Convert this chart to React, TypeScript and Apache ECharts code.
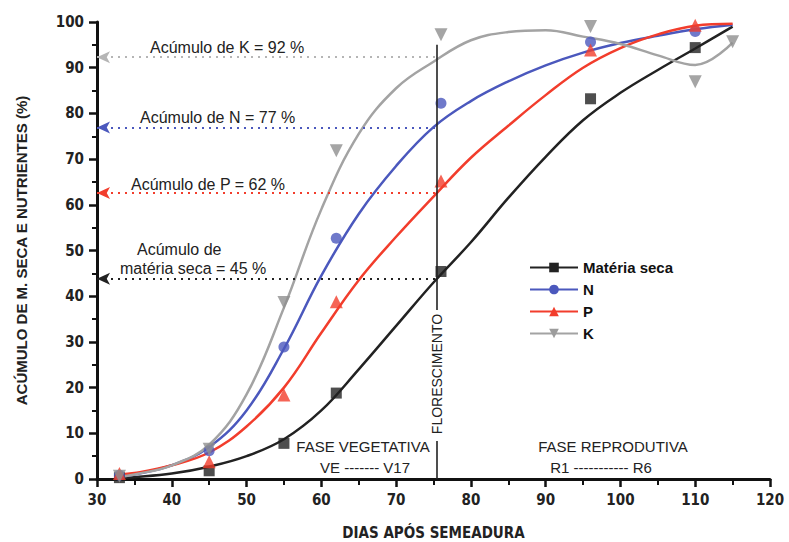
import React, { useEffect, useRef } from "react";
import * as echarts from "echarts";

// Fitted curves
const curveDays = [33, 35, 40, 45, 50, 55, 60, 65, 70, 75, 80, 85, 90, 95, 100, 105, 110, 115];
const msCurve = [0.2, 0.4, 1.2, 2.7, 5, 8.7, 15, 24, 33.5, 43, 51.8, 61.5, 70.5, 78.5, 84.5, 89.5, 94.2, 99];
const nCurve = [0.5, 1, 3, 7, 15, 28.5, 44.5, 58, 68.5, 77, 82.7, 87, 90.5, 93.3, 95.4, 97, 98.4, 99.4];
const pCurve = [1, 1.3, 3, 5.8, 11.5, 20, 32, 43.5, 53, 61.8, 70.3, 77.3, 84, 90, 94.3, 97.3, 99.2, 99.6];
const kCurve = [0.5, 1, 3, 7.5, 18.5, 37.5, 59, 75.5, 85.5, 91.3, 96, 97.8, 98.2, 96.8, 95.2, 92.7, 90.6, 95.5];

// Observed points
const sampleDays = [33, 45, 55, 62, 76, 96, 110];
const msPoints = [0.3, 1.8, 7.8, 18.8, 45.4, 83.2, 94.4];
const nPoints = [0.8, 6.2, 28.9, 52.7, 82.2, 95.6, 97.9];
const pPoints = [1.2, 3.8, 18.4, 38.8, 65.2, 93.9, 99.3];
const kDays = [33, 45, 55, 62, 76, 96, 110, 115];
const kPoints = [0.6, 6.5, 38.6, 71.8, 97.2, 99, 86.9, 95.7];

// Accumulation at flowering
const floweringDay = 75.5;
const accK = 92.3;
const accN = 76.9;
const accP = 62.6;
const accMS = 43.8;

const xTicks = [30, 40, 50, 60, 70, 80, 90, 100, 110, 120];
const yTicks = [0, 10, 20, 30, 40, 50, 60, 70, 80, 90, 100];

const C_MS = "#222222";
const C_N = "#4b58bd";
const C_P = "#f23d2c";
const C_K = "#9c9c9c";

const zip = (xs: number[], ys: number[]) => xs.map((x, i) => [x, ys[i]]);

const annoFont = "'Liberation Sans', Arial, sans-serif";
const narrow = "'Liberation Sans Narrow', 'DejaVu Sans Condensed', 'Liberation Sans', sans-serif";

function accLine(v: number, color: string) {
  return {
    silent: true,
    symbol: ["arrow", "none"],
    symbolSize: [9, 13],
    label: { show: false },
    lineStyle: { color, type: [2, 5], width: 2 },
    data: [[{ coord: [30, v] }, { coord: [floweringDay, v] }]],
  };
}

export default function App() {
  const ref = useRef<HTMLDivElement>(null);
  useEffect(() => {
    if (!ref.current) return;
    const chart = echarts.init(ref.current, null, { renderer: "svg" });
    const lineBase = (name: string, data: number[], color: string, symbol: string, rot = 0) => ({
      name,
      type: "line",
      data: zip(curveDays, data),
      smooth: 0.4,
      showSymbol: false,
      symbol,
      symbolSize: 11,
      symbolRotate: rot,
      lineStyle: { color, width: 2.5 },
      itemStyle: { color },
      z: 3,
    });
    const scatter = (name: string, xs: number[], ys: number[], color: string, symbol: string, size: number, rot = 0) => ({
      name,
      type: "scatter",
      data: zip(xs, ys),
      symbol,
      symbolSize: size,
      symbolRotate: rot,
      itemStyle: { color },
      z: 4,
    });
    const option: any = {
      animation: false,
      backgroundColor: "#ffffff",
      grid: { left: 97, right: 19, top: 22, bottom: 63, containLabel: false, outerBoundsMode: "none" },
      xAxis: {
        type: "value",
        min: 30,
        max: 120,
        interval: 10,
        name: "DIAS APÓS SEMEADURA",
        nameLocation: "middle",
        nameGap: 46,
        nameTextStyle: { fontFamily: narrow, fontWeight: "bold", fontSize: 15, color: "#222" },
        axisLine: { lineStyle: { color: "#111", width: 3 } },
        axisTick: { length: 8, lineStyle: { color: "#111", width: 2.5 } },
        minorTick: { show: true, splitNumber: 2, length: 6, lineStyle: { color: "#111", width: 2 } },
        splitLine: { show: false },
        axisLabel: {
          margin: 13,
          fontFamily: narrow,
          fontWeight: "bold",
          fontSize: 15,
          color: "#222",
          formatter: (v: number) => (xTicks.includes(v) ? String(v) : ""),
        },
      },
      yAxis: {
        type: "value",
        min: 0,
        max: 100,
        interval: 10,
        name: "ACÚMULO DE M. SECA E NUTRIENTES (%)",
        nameLocation: "middle",
        nameGap: 68,
        nameTextStyle: { fontFamily: annoFont, fontWeight: "bold", fontSize: 15, color: "#222" },
        axisLine: { show: true, lineStyle: { color: "#111", width: 3 } },
        axisTick: { show: true, length: 8, lineStyle: { color: "#111", width: 2.5 } },
        minorTick: { show: true, splitNumber: 2, length: 5, lineStyle: { color: "#111", width: 2 } },
        splitLine: { show: false },
        axisLabel: {
          margin: 13,
          fontFamily: narrow,
          fontWeight: "bold",
          fontSize: 15,
          color: "#222",
          formatter: (v: number) => (yTicks.includes(v) ? String(v) : ""),
        },
      },
      legend: {
        data: ["Matéria seca", "N", "P", "K"],
        orient: "vertical",
        left: 524,
        top: 255,
        itemWidth: 48,
        itemHeight: 12,
        itemGap: 7,
        textStyle: { fontFamily: annoFont, fontWeight: "bold", fontSize: 15, color: "#111" },
        selectedMode: false,
      },
      series: [
        {
          ...lineBase("Matéria seca", msCurve, C_MS, "rect"),
          markLine: {
            silent: true,
            symbol: ["arrow", "none"],
            symbolSize: [9, 13],
            label: { show: false },
            lineStyle: { color: C_MS, type: [2, 5], width: 2 },
            data: [[{ coord: [30, accMS] }, { coord: [floweringDay, accMS] }]],
          },
        },
        { ...lineBase("N", nCurve, C_N, "circle"), markLine: accLine(accN, C_N) },
        { ...lineBase("P", pCurve, C_P, "triangle"), markLine: accLine(accP, C_P) },
        { ...lineBase("K", kCurve, C_K, "triangle", 180), lineStyle: { color: "#a3a3a3", width: 2.5 }, markLine: accLine(accK, "#b5b5b5") },
        {
          type: "line",
          data: [],
          markLine: {
            silent: true,
            symbol: "none",
            label: { show: false },
            lineStyle: { color: "#222", type: "solid", width: 1.6 },
            data: [
              [{ coord: [floweringDay, 95] }, { coord: [floweringDay, 37] }],
              [{ coord: [floweringDay, 8.3] }, { coord: [floweringDay, 0] }],
            ],
          },
        },
        scatter("Matéria seca", sampleDays, msPoints, C_MS, "rect", 11),
        scatter("N", sampleDays, nPoints, C_N, "circle", 11),
        scatter("P", sampleDays, pPoints, C_P, "triangle", 13),
        scatter("K", kDays, kPoints, "#8e8e8e", "triangle", 13, 180),
      ],
      graphic: [
        { type: "text", left: 150, top: 39, style: { text: "Acúmulo de K = 92 %", font: `16px ${annoFont}`, fill: "#222" } },
        { type: "text", left: 140, top: 109, style: { text: "Acúmulo de N = 77 %", font: `16px ${annoFont}`, fill: "#222" } },
        { type: "text", left: 131, top: 176, style: { text: "Acúmulo de P = 62 %", font: `16px ${annoFont}`, fill: "#222" } },
        { type: "text", left: 137, top: 241, style: { text: "Acúmulo de", font: `16px ${annoFont}`, fill: "#222" } },
        { type: "text", left: 120, top: 260, style: { text: "matéria seca = 45 %", font: `16px ${annoFont}`, fill: "#222" } },
        { type: "text", x: 363, y: 446, style: { text: "FASE VEGETATIVA", font: `15px ${annoFont}`, fill: "#222", align: "center", verticalAlign: "middle" } },
        { type: "text", x: 365, y: 467, style: { text: "VE ------- V17", font: `15px ${annoFont}`, fill: "#222", align: "center", verticalAlign: "middle" } },
        { type: "text", x: 613, y: 446, style: { text: "FASE REPRODUTIVA", font: `15px ${annoFont}`, fill: "#222", align: "center", verticalAlign: "middle" } },
        { type: "text", x: 601, y: 467, style: { text: "R1 ----------- R6", font: `15px ${annoFont}`, fill: "#222", align: "center", verticalAlign: "middle" } },
        { type: "text", x: 437, y: 374, rotation: Math.PI / 2, style: { text: "FLORESCIMENTO", font: `14px ${annoFont}`, fill: "#222", align: "center", verticalAlign: "middle" } },
      ],
    };
    chart.setOption(option);
    return () => chart.dispose();
  }, []);
  return <div ref={ref} style={{ position: "absolute", left: 0, top: 0, width: 789, height: 542 }} />;
}
